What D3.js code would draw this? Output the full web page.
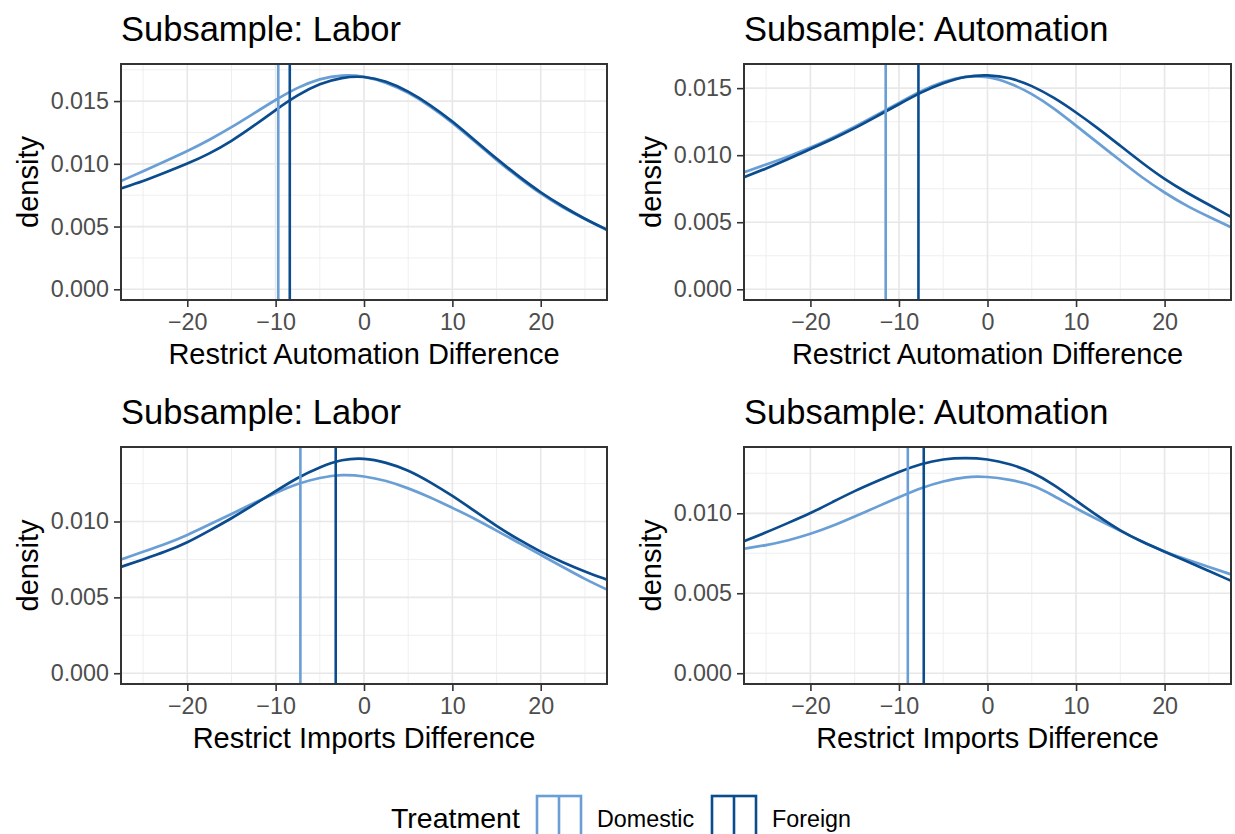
<!DOCTYPE html>
<html>
<head>
<meta charset="utf-8">
<script src="https://cdn.jsdelivr.net/npm/d3@7"></script>
<style>
  body { margin: 0; background: #fff; }
  svg text { font-family: "Liberation Sans", Arial, sans-serif; }
</style>
</head>
<body>
<svg id="chart" width="1235" height="834"></svg>
<script>
// valeurs (pas de 2.5)
const xGrid = [-27.5, -25, -22.5, -20, -17.5, -15, -12.5, -10, -7.5, -5, -2.5, 0,
               2.5, 5, 7.5, 10, 12.5, 15, 17.5, 20, 22.5, 25, 27.5];

const laborAutoDomestic = [0.00863, 0.0094, 0.0102, 0.0110, 0.0119, 0.0129, 0.0140, 0.0151, 0.0161, 0.0168, 0.0171, 0.0170,
                           0.0165, 0.0157, 0.0146, 0.0133, 0.0118, 0.0103, 0.0089, 0.0076, 0.0065, 0.0056, 0.00472];
const laborAutoForeign  = [0.00804, 0.0086, 0.0093, 0.0100, 0.0108, 0.0118, 0.0130, 0.0143, 0.0155, 0.0164, 0.0169, 0.0170,
                           0.0166, 0.0158, 0.0147, 0.0134, 0.0119, 0.0104, 0.0090, 0.0077, 0.0066, 0.0056, 0.00475];
const autoAutoDomestic  = [0.00873, 0.0093, 0.0099, 0.01055, 0.0113, 0.0121, 0.0130, 0.0139, 0.0148, 0.0155, 0.0159, 0.0159,
                           0.0154, 0.0146, 0.0135, 0.0122, 0.0109, 0.0096, 0.0083, 0.0072, 0.0062, 0.0054, 0.00463];
const autoAutoForeign   = [0.00836, 0.0090, 0.0097, 0.01046, 0.0112, 0.0120, 0.0129, 0.0138, 0.0147, 0.0154, 0.0159, 0.0160,
                           0.0158, 0.0152, 0.0143, 0.0132, 0.0120, 0.0107, 0.0094, 0.0082, 0.0072, 0.0063, 0.0054];
const laborImpDomestic  = [0.0075, 0.0080, 0.0085, 0.0091, 0.0098, 0.0105, 0.0112, 0.0119, 0.0125, 0.0129, 0.0131, 0.0130,
                           0.0127, 0.0122, 0.0116, 0.0109, 0.0102, 0.0094, 0.0086, 0.0078, 0.0070, 0.0062, 0.00551];
const laborImpForeign   = [0.00701, 0.0075, 0.0080, 0.0086, 0.0094, 0.0102, 0.0111, 0.0120, 0.0129, 0.0136, 0.0141, 0.0142,
                           0.0139, 0.0134, 0.0126, 0.0117, 0.0107, 0.0097, 0.0088, 0.0080, 0.0073, 0.0067, 0.00617];
const autoImpDomestic   = [0.00778, 0.0080, 0.0083, 0.0087, 0.0092, 0.0098, 0.0104, 0.0110, 0.0116, 0.0120, 0.0123, 0.0123,
                           0.0121, 0.0118, 0.0111, 0.0103, 0.0096, 0.0089, 0.0082, 0.0076, 0.0071, 0.00665, 0.00618];
const autoImpForeign    = [0.00825, 0.0088, 0.0094, 0.0100, 0.0107, 0.0114, 0.0120, 0.0126, 0.0131, 0.0134, 0.01347, 0.0134,
                           0.0131, 0.0126, 0.0118, 0.0108, 0.0098, 0.0089, 0.0082, 0.0076, 0.0070, 0.0064, 0.00578];

// moyennes (lignes verticales) : [Domestic, Foreign]
const laborAutoMeans = [-9.7, -8.4];
const autoAutoMeans  = [-11.5, -7.8];
const laborImpMeans  = [-7.2, -3.2];
const autoImpMeans   = [-9.0, -7.2];

const panelTitles = ["Subsample: Labor", "Subsample: Automation", "Subsample: Labor", "Subsample: Automation"];
const xTitles = ["Restrict Automation Difference", "Restrict Automation Difference", "Restrict Imports Difference", "Restrict Imports Difference"];
const xTicks = [-20, -10, 0, 10, 20];
const xMinor = [-25, -15, -5, 5, 15, 25];
const treatments = ["Domestic", "Foreign"];
const colors = ["#6a9fd6", "#0b4c8f"];
const xDomain = [-27.5, 27.5];

const panels = [
    { title: panelTitles[0], xTitle: xTitles[0], series: [laborAutoDomestic, laborAutoForeign], means: laborAutoMeans, yTicks: [0, 0.005, 0.010, 0.015] },
    { title: panelTitles[1], xTitle: xTitles[1], series: [autoAutoDomestic, autoAutoForeign], means: autoAutoMeans, yTicks: [0, 0.005, 0.010, 0.015] },
    { title: panelTitles[2], xTitle: xTitles[2], series: [laborImpDomestic, laborImpForeign], means: laborImpMeans, yTicks: [0, 0.005, 0.010] },
    { title: panelTitles[3], xTitle: xTitles[3], series: [autoImpDomestic, autoImpForeign], means: autoImpMeans, yTicks: [0, 0.005, 0.010] }
];

const boxes = [
    { x0: 121, x1: 607, y0: 64, y1: 300 },
    { x0: 744, x1: 1231, y0: 64, y1: 300 },
    { x0: 121, x1: 607, y0: 447, y1: 684 },
    { x0: 744, x1: 1231, y0: 447, y1: 684 }
];

const svg = d3.select("#chart");
svg.append("rect").attr("width", 1235).attr("height", 834).attr("fill", "#fff");

/**
 * Dessine un panneau de densité.
 */
function drawPanel(panel, box, i) {
    const maxY = d3.max(panel.series, s => d3.max(s));
    const x = d3.scaleLinear().domain(xDomain).range([box.x0, box.x1]);
    const y = d3.scaleLinear().domain([-0.05 * maxY, 1.05 * maxY]).range([box.y1, box.y0]);

    const g = svg.append("g");

    g.append("clipPath").attr("id", "clip" + i)
        .append("rect")
        .attr("x", box.x0).attr("y", box.y0)
        .attr("width", box.x1 - box.x0).attr("height", box.y1 - box.y0);

    // grille mineure
    const step = panel.yTicks[1] - panel.yTicks[0];
    const yMinor = panel.yTicks.map(t => t + step / 2).filter(t => y(t) > box.y0);
    g.selectAll(".xminor").data(xMinor).enter().append("line")
        .attr("x1", d => x(d)).attr("x2", d => x(d))
        .attr("y1", box.y0).attr("y2", box.y1)
        .attr("stroke", "#ebebeb").attr("stroke-width", 0.8);
    g.selectAll(".yminor").data(yMinor).enter().append("line")
        .attr("x1", box.x0).attr("x2", box.x1)
        .attr("y1", d => y(d)).attr("y2", d => y(d))
        .attr("stroke", "#ebebeb").attr("stroke-width", 0.8);

    // grille majeure
    g.selectAll(".xmajor").data(xTicks).enter().append("line")
        .attr("x1", d => x(d)).attr("x2", d => x(d))
        .attr("y1", box.y0).attr("y2", box.y1)
        .attr("stroke", "#e8e8e8").attr("stroke-width", 1.7);
    g.selectAll(".ymajor").data(panel.yTicks).enter().append("line")
        .attr("x1", box.x0).attr("x2", box.x1)
        .attr("y1", d => y(d)).attr("y2", d => y(d))
        .attr("stroke", "#e8e8e8").attr("stroke-width", 1.7);

    const line = d3.line()
        .x((d, j) => x(xGrid[j]))
        .y(d => y(d))
        .curve(d3.curveBasis);

    const plot = g.append("g").attr("clip-path", `url(#clip${i})`);

    panel.series.forEach((s, k) => {
        plot.append("path")
            .attr("d", line(s))
            .attr("fill", "none")
            .attr("stroke", colors[k])
            .attr("stroke-width", 2.7);
    });

    panel.means.forEach((m, k) => {
        plot.append("line")
            .attr("x1", x(m)).attr("x2", x(m))
            .attr("y1", box.y0).attr("y2", box.y1)
            .attr("stroke", colors[k])
            .attr("stroke-width", 2.6);
    });

    // cadre
    g.append("rect")
        .attr("x", box.x0).attr("y", box.y0)
        .attr("width", box.x1 - box.x0).attr("height", box.y1 - box.y0)
        .attr("fill", "none").attr("stroke", "#333333").attr("stroke-width", 2);

    // axes
    const xAxis = g.append("g")
        .attr("transform", `translate(0,${box.y1})`)
        .call(d3.axisBottom(x).tickValues(xTicks).tickSize(7).tickPadding(6));
    const yAxis = g.append("g")
        .attr("transform", `translate(${box.x0},0)`)
        .call(d3.axisLeft(y).tickValues(panel.yTicks).tickFormat(d3.format(".3f")).tickSize(7).tickPadding(5));

    [xAxis, yAxis].forEach(a => {
        a.select(".domain").remove();
        a.selectAll(".tick line").attr("stroke", "#333333").attr("stroke-width", 1.6);
        a.selectAll(".tick text")
            .attr("fill", "#4d4d4d")
            .attr("font-size", 23.3)
            .attr("font-family", "Liberation Sans, Arial, sans-serif");
    });
    xAxis.selectAll(".tick text").attr("dy", "0.75em");

    // titres
    g.append("text")
        .attr("x", box.x0).attr("y", box.y0 - 23)
        .attr("font-size", 34.5).attr("fill", "#000")
        .text(panel.title);

    g.append("text")
        .attr("x", (box.x0 + box.x1) / 2).attr("y", box.y1 + 64)
        .attr("text-anchor", "middle")
        .attr("font-size", 29).attr("fill", "#000")
        .text(panel.xTitle);

    const cy = (box.y0 + box.y1) / 2;
    const tx = box.x0 - 83;
    g.append("text")
        .attr("transform", `translate(${tx},${cy}) rotate(-90)`)
        .attr("text-anchor", "middle")
        .attr("font-size", 29).attr("fill", "#000")
        .text("density");
}

panels.forEach((p, i) => drawPanel(p, boxes[i], i));

// légende
const legend = svg.append("g");
legend.append("text")
    .attr("x", 391).attr("y", 828)
    .attr("font-size", 28.5).attr("fill", "#000")
    .text("Treatment");

const keyX = [537, 712];
treatments.forEach((t, k) => {
    legend.append("rect")
        .attr("x", keyX[k]).attr("y", 796)
        .attr("width", 44).attr("height", 48)
        .attr("fill", "#fff").attr("stroke", colors[k]).attr("stroke-width", 2.6);
    legend.append("line")
        .attr("x1", keyX[k] + 22).attr("x2", keyX[k] + 22)
        .attr("y1", 796).attr("y2", 844)
        .attr("stroke", colors[k]).attr("stroke-width", 2.6);
    legend.append("text")
        .attr("x", keyX[k] + 60).attr("y", 827)
        .attr("font-size", 23.3).attr("fill", "#000")
        .text(t);
});
</script>
</body>
</html>
